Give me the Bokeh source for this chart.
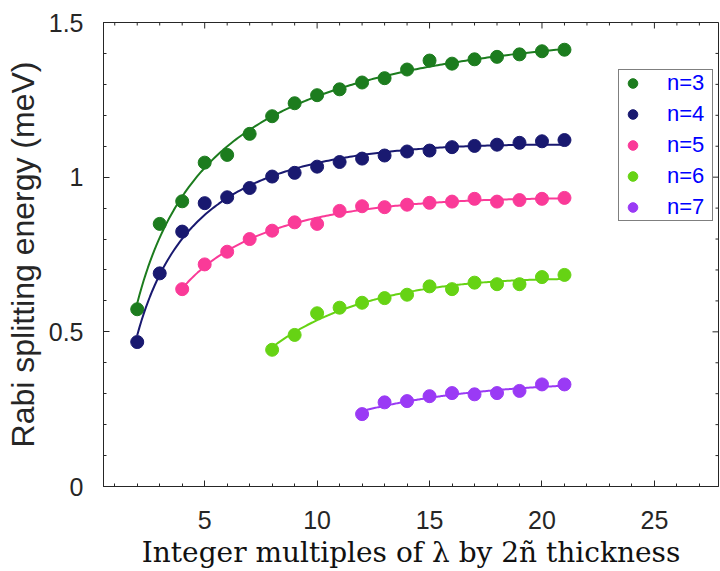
import numpy as np
from bokeh.plotting import figure
from bokeh.models import LinearAxis, FixedTicker, Legend, LegendItem
from bokeh.embed import file_html
from bokeh.resources import INLINE

# Rabi splitting energy (meV) versus thickness multiple, one series per mode n
x_n3 = list(range(2, 22))
e_n3 = [0.573, 0.849, 0.922, 1.047, 1.072, 1.140, 1.197, 1.239, 1.265, 1.284,
        1.306, 1.320, 1.348, 1.377, 1.367, 1.381, 1.389, 1.397, 1.407, 1.412]
x_n4 = list(range(2, 22))
e_n4 = [0.467, 0.689, 0.824, 0.916, 0.935, 0.965, 1.002, 1.014, 1.034, 1.049,
        1.060, 1.070, 1.083, 1.086, 1.097, 1.101, 1.105, 1.111, 1.116, 1.120]
x_n5 = list(range(4, 22))
e_n5 = [0.638, 0.718, 0.759, 0.800, 0.827, 0.854, 0.849, 0.891, 0.906, 0.903,
        0.911, 0.917, 0.921, 0.930, 0.921, 0.926, 0.930, 0.933]
x_n6 = list(range(8, 22))
e_n6 = [0.442, 0.490, 0.560, 0.578, 0.594, 0.609, 0.620, 0.647, 0.638, 0.659,
        0.654, 0.654, 0.677, 0.684]
x_n7 = list(range(12, 22))
e_n7 = [0.234, 0.272, 0.276, 0.292, 0.302, 0.298, 0.302, 0.309, 0.330, 0.330]

labels = ["n=3", "n=4", "n=5", "n=6", "n=7"]
colors = ["#1C7C1E", "#191970", "#FA3A98", "#66D314", "#9A3AF5"]
series = [(x_n3, e_n3), (x_n4, e_n4), (x_n5, e_n5), (x_n6, e_n6), (x_n7, e_n7)]

x_lim = (0.5, 27.85)
y_lim = (0.0, 1.5)
x_major = [5, 10, 15, 20, 25]
x_minor = list(range(1, 28))
y_major = [0, 0.5, 1, 1.5]
y_minor = [round(0.1 * k, 1) for k in range(16)]

AX = "#262626"
TICK_FONT = "Liberation Sans"
MAJOR_LEN = 6
MINOR_LEN = 3

p = figure(width=720, height=571, x_range=x_lim, y_range=y_lim,
           output_backend="svg", toolbar_location=None,
           min_border_left=103, min_border_right=2,
           min_border_top=22, min_border_bottom=85,
           x_axis_location=None, y_axis_location=None)
p.xgrid.visible = False
p.ygrid.visible = False
p.outline_line_color = AX
p.outline_line_width = 1
p.background_fill_color = "white"
p.border_fill_color = "white"


def style_axis(ax, ticks, minors):
    ax.ticker = FixedTicker(ticks=ticks, minor_ticks=minors)
    ax.axis_line_color = AX
    ax.axis_line_width = 1
    ax.major_tick_line_color = AX
    ax.minor_tick_line_color = AX
    ax.major_tick_in = MAJOR_LEN
    ax.major_tick_out = 0
    ax.minor_tick_in = MINOR_LEN
    ax.minor_tick_out = 0
    ax.major_label_text_font = TICK_FONT
    ax.major_label_text_font_size = "25px"
    ax.major_label_text_color = AX


xb = LinearAxis()
style_axis(xb, x_major, x_minor)
xb.major_label_standoff = 24
xb.axis_label = "Integer multiples of λ by 2ñ thickness"
xb.axis_label_text_font = "DejaVu Serif"
xb.axis_label_text_font_style = "normal"
xb.axis_label_text_font_size = "28px"
xb.axis_label_text_color = "#111111"
xb.axis_label_standoff = 4
p.add_layout(xb, "below")

yl = LinearAxis()
style_axis(yl, y_major, y_minor)
yl.major_label_overrides = {0: "0", 0.5: "0.5", 1: "1", 1.5: "1.5"}
yl.major_label_standoff = 20
yl.axis_label = "Rabi splitting energy (meV)"
yl.axis_label_text_font = TICK_FONT
yl.axis_label_text_font_style = "normal"
yl.axis_label_text_font_size = "32px"
yl.axis_label_text_color = AX
yl.axis_label_standoff = 5
p.add_layout(yl, "left")

# mirrored inward ticks on the top and right edges of the box
# (dash markers centred on the edge; the frame clips the outer half)
minor_x_only = [t for t in x_minor if t not in x_major]
minor_y_only = [t for t in y_minor if t not in y_major]
p.scatter(x_major, [y_lim[1]] * len(x_major), marker="dash", angle=np.pi / 2,
          size=2 * MAJOR_LEN, line_color=AX, line_width=1)
p.scatter(minor_x_only, [y_lim[1]] * len(minor_x_only), marker="dash",
          angle=np.pi / 2, size=2 * MINOR_LEN, line_color=AX, line_width=1)
p.scatter([x_lim[1]] * len(y_major), y_major, marker="dash",
          size=2 * MAJOR_LEN, line_color=AX, line_width=1)
p.scatter([x_lim[1]] * len(minor_y_only), minor_y_only, marker="dash",
          size=2 * MINOR_LEN, line_color=AX, line_width=1)

items = []
for (xs, ys), col, lab in zip(series, colors, labels):
    xa = np.array(xs, dtype=float)
    ya = np.array(ys, dtype=float)
    # smooth least-squares trend through each series (quadratic in ln x)
    coef = np.polyfit(np.log(xa), ya, 2)
    xf = np.linspace(xa.min(), xa.max(), 200)
    yf = np.polyval(coef, np.log(xf))
    p.line(xf, yf, line_color=col, line_width=2)
    r = p.scatter(xa, ya, marker="circle", size=13, fill_color=col, line_color=col)
    items.append(LegendItem(label=lab, renderers=[r]))

legend = Legend(items=items, location=(515, 265), margin=0)
legend.label_text_color = "#0000FF"
legend.label_text_font = TICK_FONT
legend.label_text_font_size = "22px"
legend.border_line_color = "#000000"
legend.border_line_width = 1
legend.padding = 0
legend.spacing = 5
legend.glyph_height = 24
legend.glyph_width = 27
legend.label_height = 24
legend.label_width = 45
legend.label_standoff = 21
legend.background_fill_color = "white"
legend.background_fill_alpha = 1
p.add_layout(legend, "center")

open("out.html", "w").write(file_html(p, INLINE))
